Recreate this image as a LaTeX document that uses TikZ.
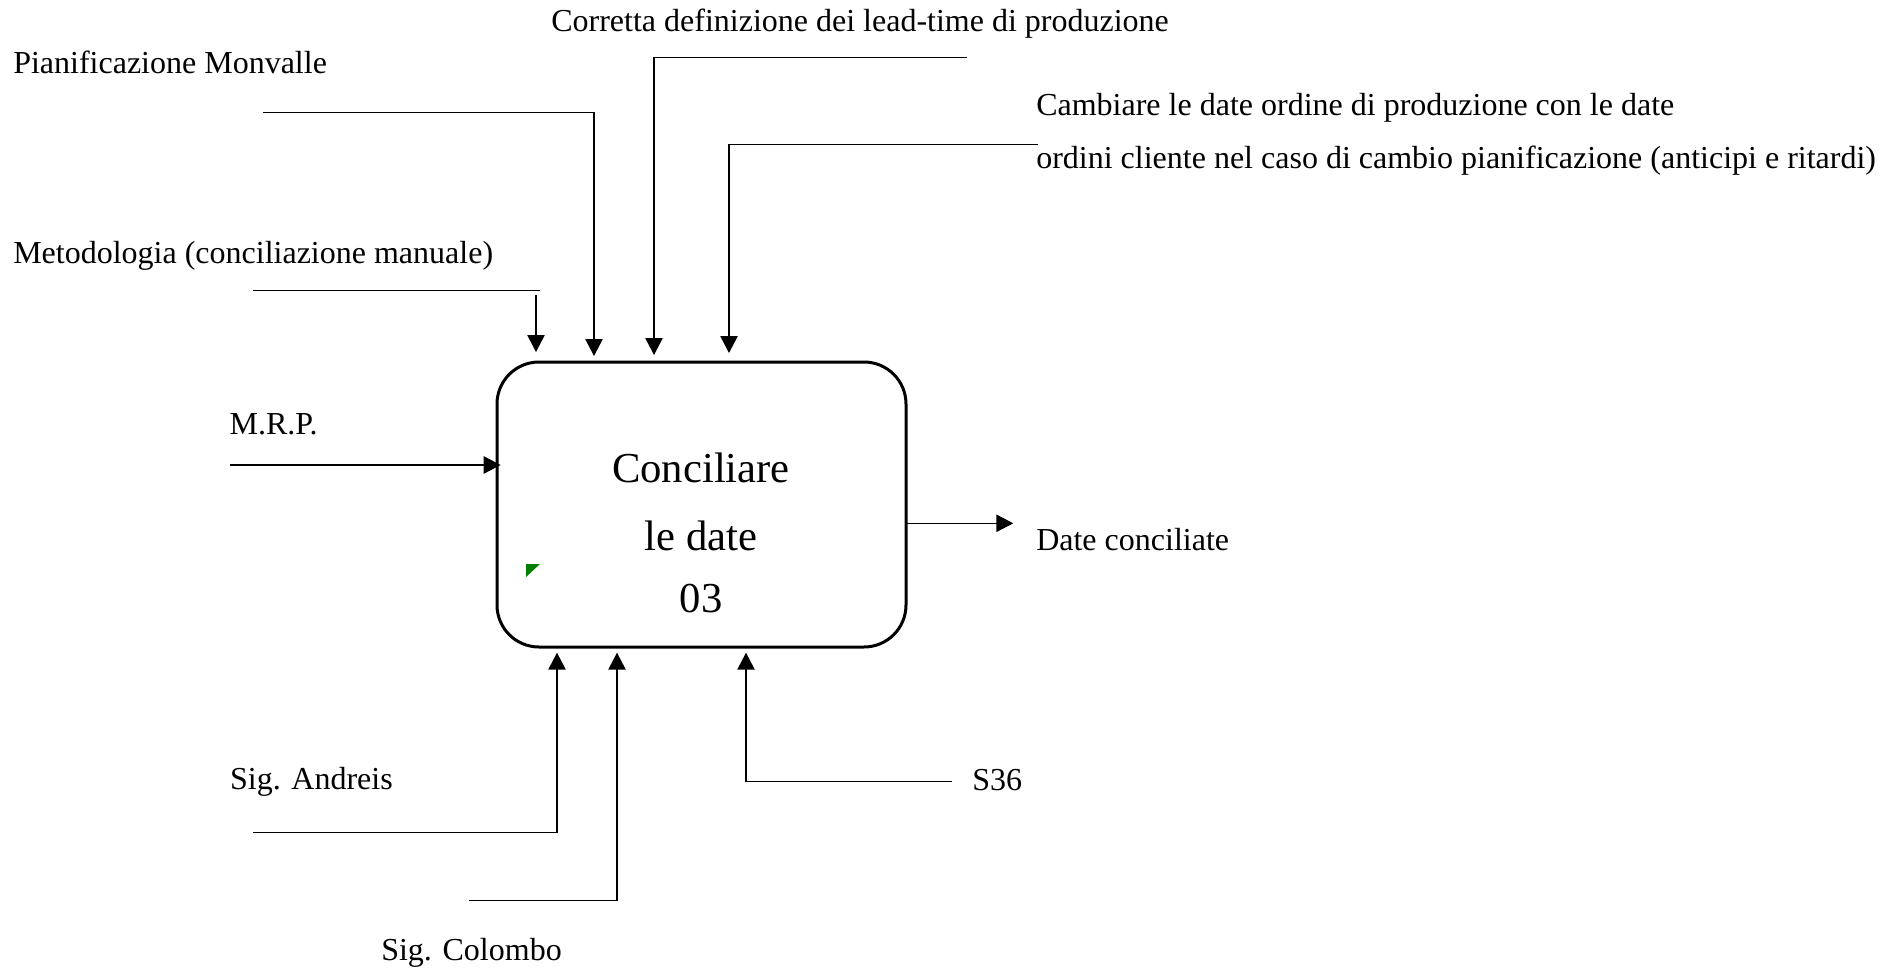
\documentclass[tikz,border=0pt]{standalone}
\usepackage{fontspec}
\setmainfont{Liberation Serif}
\usetikzlibrary{arrows.meta}
\definecolor{mkgreen}{RGB}{0,128,0}
\tikzset{
  lbl/.style={font=\fontsize{24}{28}\selectfont, anchor=base west, inner sep=0pt},
  boxtxt/.style={font=\fontsize{32}{38}\selectfont, anchor=base, inner sep=0pt},
  conn/.style={line width=1.1pt},
  arr/.style={conn, -{Triangle[length=12.75pt,width=13pt]}},
  procbox/.style={draw, line width=2.25pt, rounded corners=31.5pt, minimum width=306.75pt, minimum height=213.75pt, inner sep=0pt}
}
\begin{document}
\begin{tikzpicture}[x=0.75pt,y=-0.75pt]
\useasboundingbox (0,0) rectangle (1902,970);
% process box
\node[procbox] (box) at (701.5,504.5) {};
\node[boxtxt] (t1) at (701,482.7) {Conciliare};
\node[boxtxt] (t2) at (701,550) {le date};
\node[boxtxt] (t3) at (701,612.7) {03};
\fill[mkgreen] (526,564) -- (540,564) -- (526,577) -- cycle;

% labels
\node[lbl] (pian) at (13,74) {Pianificazione Monvalle};
\node[lbl] (meto) at (13,263) {Metodologia (conciliazione manuale)};
\node[lbl] (corr) at (551,31.7) {Corretta definizione dei lead-time di produzione};
\node[lbl] (cam1) at (1036,116) {Cambiare le date ordine di produzione con le date};
\node[lbl] (cam2) at (1036,169) {ordini cliente nel caso di cambio pianificazione (anticipi e ritardi)};
\node[lbl] (mrp) at (229.3,434.3) {M.R.P.};
\node[lbl] (date) at (1036,550.7) {Date conciliate};
\node[lbl] (andr) at (229.8,789) {Sig. Andreis};
\node[lbl] (s36) at (972,790) {S36};
\node[lbl] (colo) at (381,960) {Sig. Colombo};

% coordinates
\coordinate (p0) at (263,112.7);  \coordinate (p1) at (594,112.7);  \coordinate (ptip) at (594,356);
\coordinate (m0) at (253,290.7);  \coordinate (m1) at (540,290.7);
\coordinate (m2) at (536,295);    \coordinate (mtip) at (536,352);
\coordinate (c0) at (966.7,57.3); \coordinate (c1) at (654,57.3);   \coordinate (ctip) at (654,355);
\coordinate (k0) at (1038,144.3); \coordinate (k1) at (729,144.3);  \coordinate (ktip) at (729,353);
\coordinate (r0) at (230,465);    \coordinate (rtip) at (500.7,465);
\coordinate (d0) at (906,523.3);  \coordinate (dtip) at (1013.3,523.3);
\coordinate (a0) at (253,832.7);  \coordinate (a1) at (557,832.7);  \coordinate (atip) at (557,652.7);
\coordinate (o0) at (469,900.7);  \coordinate (o1) at (617,900.7);  \coordinate (otip) at (617,652.7);
\coordinate (s0) at (952,781.3);  \coordinate (s1) at (746,781.3);  \coordinate (stip) at (746,652.7);

% connectors
\draw[arr] (p0) -- (p1) -- (ptip);
\draw[conn] (m0) -- (m1);
\draw[arr] (m2) -- (mtip);
\draw[arr] (c0) -- (c1) -- (ctip);
\draw[arr] (k0) -- (k1) -- (ktip);
\draw[arr] (r0) -- (rtip);
\draw[arr] (d0) -- (dtip);
\draw[arr] (a0) -- (a1) -- (atip);
\draw[arr] (o0) -- (o1) -- (otip);
\draw[arr] (s0) -- (s1) -- (stip);
\end{tikzpicture}
\end{document}
